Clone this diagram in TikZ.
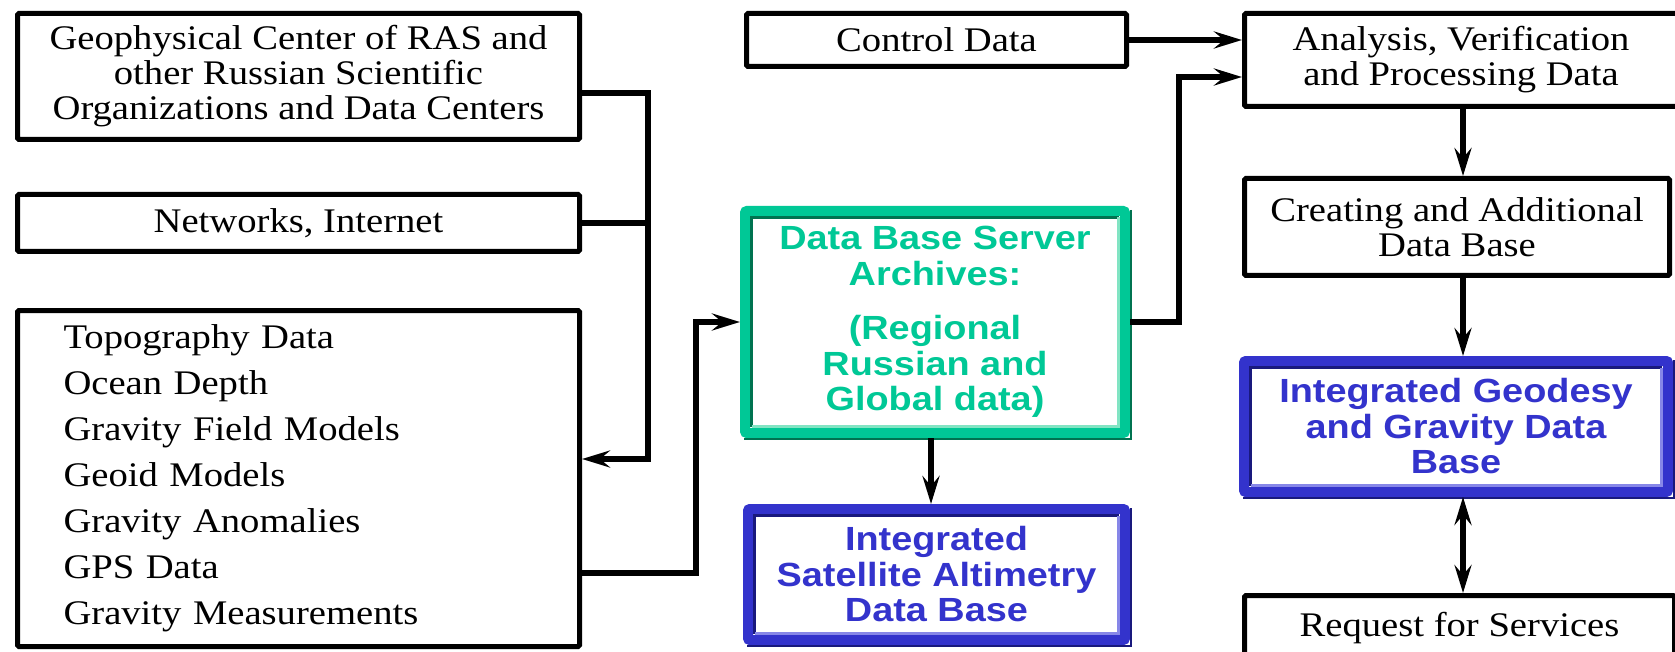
\documentclass[tikz,border=0pt]{standalone}
\usepackage{fontspec}
\setmainfont{Liberation Serif}[FakeStretch=1.12]
\newfontfamily\hsans{Liberation Sans}[FakeStretch=1.13]
\usetikzlibrary{arrows.meta}
\definecolor{teal1}{RGB}{0,200,150}
\definecolor{teal2}{RGB}{0,115,80}
\definecolor{teal3}{RGB}{130,228,195}
\definecolor{blue1}{RGB}{51,51,204}
\definecolor{blue2}{RGB}{25,25,125}
\definecolor{blue3}{RGB}{135,135,232}
\newcommand\serifA{\fontsize{34.5}{35}\selectfont}
\newcommand\serifL{\fontsize{34.5}{46}\selectfont}
\newcommand\sansA{\hsans\bfseries\fontsize{33.5}{35.5}\selectfont}
\newcommand\bevelbox[3]{%
  \draw[#2, line width=2.5pt] ([shift={(1.2,4)}]#1.north east) -- ([shift={(1.2,1.2)}]#1.south east) -- ([shift={(4,1.2)}]#1.south west);
  \draw[#2, line width=3pt] ([shift={(11.5,-11.5)}]#1.south west) -- ([shift={(11.5,11.5)}]#1.north west) -- ([shift={(-11.5,11.5)}]#1.north east);
  \draw[#3, line width=3pt] ([shift={(-11.5,11.5)}]#1.north east) -- ([shift={(-11.5,-11.5)}]#1.south east) -- ([shift={(11.5,-11.5)}]#1.south west);
}
\begin{document}
\begin{tikzpicture}[x=1pt,y=-1pt,
  box/.style={draw=black, line width=5pt, fill=white, rounded corners=1.5pt, inner sep=0pt, align=center, font=\serifA},
  greenbox/.style={draw=teal1, line width=10pt, fill=white, rounded corners=2pt, inner sep=0pt, align=center, text=teal1, font=\sansA},
  bluebox/.style={draw=blue1, line width=10pt, fill=white, rounded corners=2pt, inner sep=0pt, align=center, text=blue1, font=\sansA},
  conn/.style={draw=black, line width=6.5pt},
  arr/.style={conn, -{Stealth[length=28pt,width=17pt,inset=10pt]}},
  darr/.style={conn, {Stealth[length=28pt,width=17pt,inset=10pt]}-{Stealth[length=28pt,width=17pt,inset=10pt]}}
]
\useasboundingbox (0,0) rectangle (1675,652);
\fill[white] (0,0) rectangle (1675,652);
\clip (0,0) rectangle (1675,652);

% left column
\node[box, minimum width=562pt, minimum height=126pt] (geo) at (298.5,76.5)
  {Geophysical Center of RAS and\\other Russian Scientific\\Organizations and Data Centers};
\node[box, minimum width=562pt, minimum height=57pt] (net) at (298.5,223) {Networks, Internet};
\node[box, minimum width=562pt, minimum height=336pt, text width=470pt, inner xsep=46pt, align=left, font=\serifL] (list) at (298.5,478.5)
  {Topography Data\\Ocean Depth\\Gravity Field Models\\Geoid Models\\Gravity Anomalies\\GPS Data\\Gravity Measurements};

% middle column
\node[box, minimum width=380pt, minimum height=53pt] (ctrl) at (936.5,40) {Control Data};
\node[greenbox, minimum width=380pt, minimum height=222pt] (db) at (935,322)
  {Data Base Server\\Archives:\\[19pt](Regional\\Russian and\\Global data)};
\node[bluebox, minimum width=377pt, minimum height=131pt] (sat) at (936.5,574.5)
  {Integrated\\Satellite Altimetry\\Data Base};

% right column
\node[box, minimum width=433pt, minimum height=93pt] (ana) at (1461,60)
  {Analysis, Verification\\and Processing Data};
\node[box, minimum width=425pt, minimum height=97pt] (cre) at (1457,227)
  {Creating and Additional\\Data Base};
\node[bluebox, minimum width=424pt, minimum height=131pt] (geod) at (1456,426.5)
  {Integrated Geodesy\\and Gravity Data\\Base};
\node[box, minimum width=430pt, minimum height=80pt] (req) at (1459.5,635.5)
  {\raisebox{23pt}{Request for Services}};

\bevelbox{db}{teal2}{teal3}
\bevelbox{sat}{blue2}{blue3}
\bevelbox{geod}{blue2}{blue3}

% connectors
\coordinate (b1) at (648,93);
\coordinate (b2) at (648,459);
\draw[arr] (geo.east |- b1) -- (b1) -- (b2) -- (list.east |- b2);
\draw[conn] (net.east) -- (net.east -| b1);
\coordinate (c1) at (696,573);
\draw[arr] (list.east |- c1) -- (c1) |- (db.west);
\draw[arr] (ctrl.east) -- (ctrl.east -| ana.west);
\coordinate (d1) at (1179,77);
\draw[arr] (db.east) -| (d1) -- (d1 -| ana.west);
\coordinate (sx) at (931,0);
\draw[arr] (db.south -| sx) -- (sat.north -| sx);
\coordinate (vx) at (1463,0);
\draw[arr] (ana.south -| vx) -- (cre.north -| vx);
\draw[arr] (cre.south -| vx) -- (geod.north -| vx);
\draw[darr] (geod.south -| vx) -- (req.north -| vx);
\end{tikzpicture}
\end{document}
